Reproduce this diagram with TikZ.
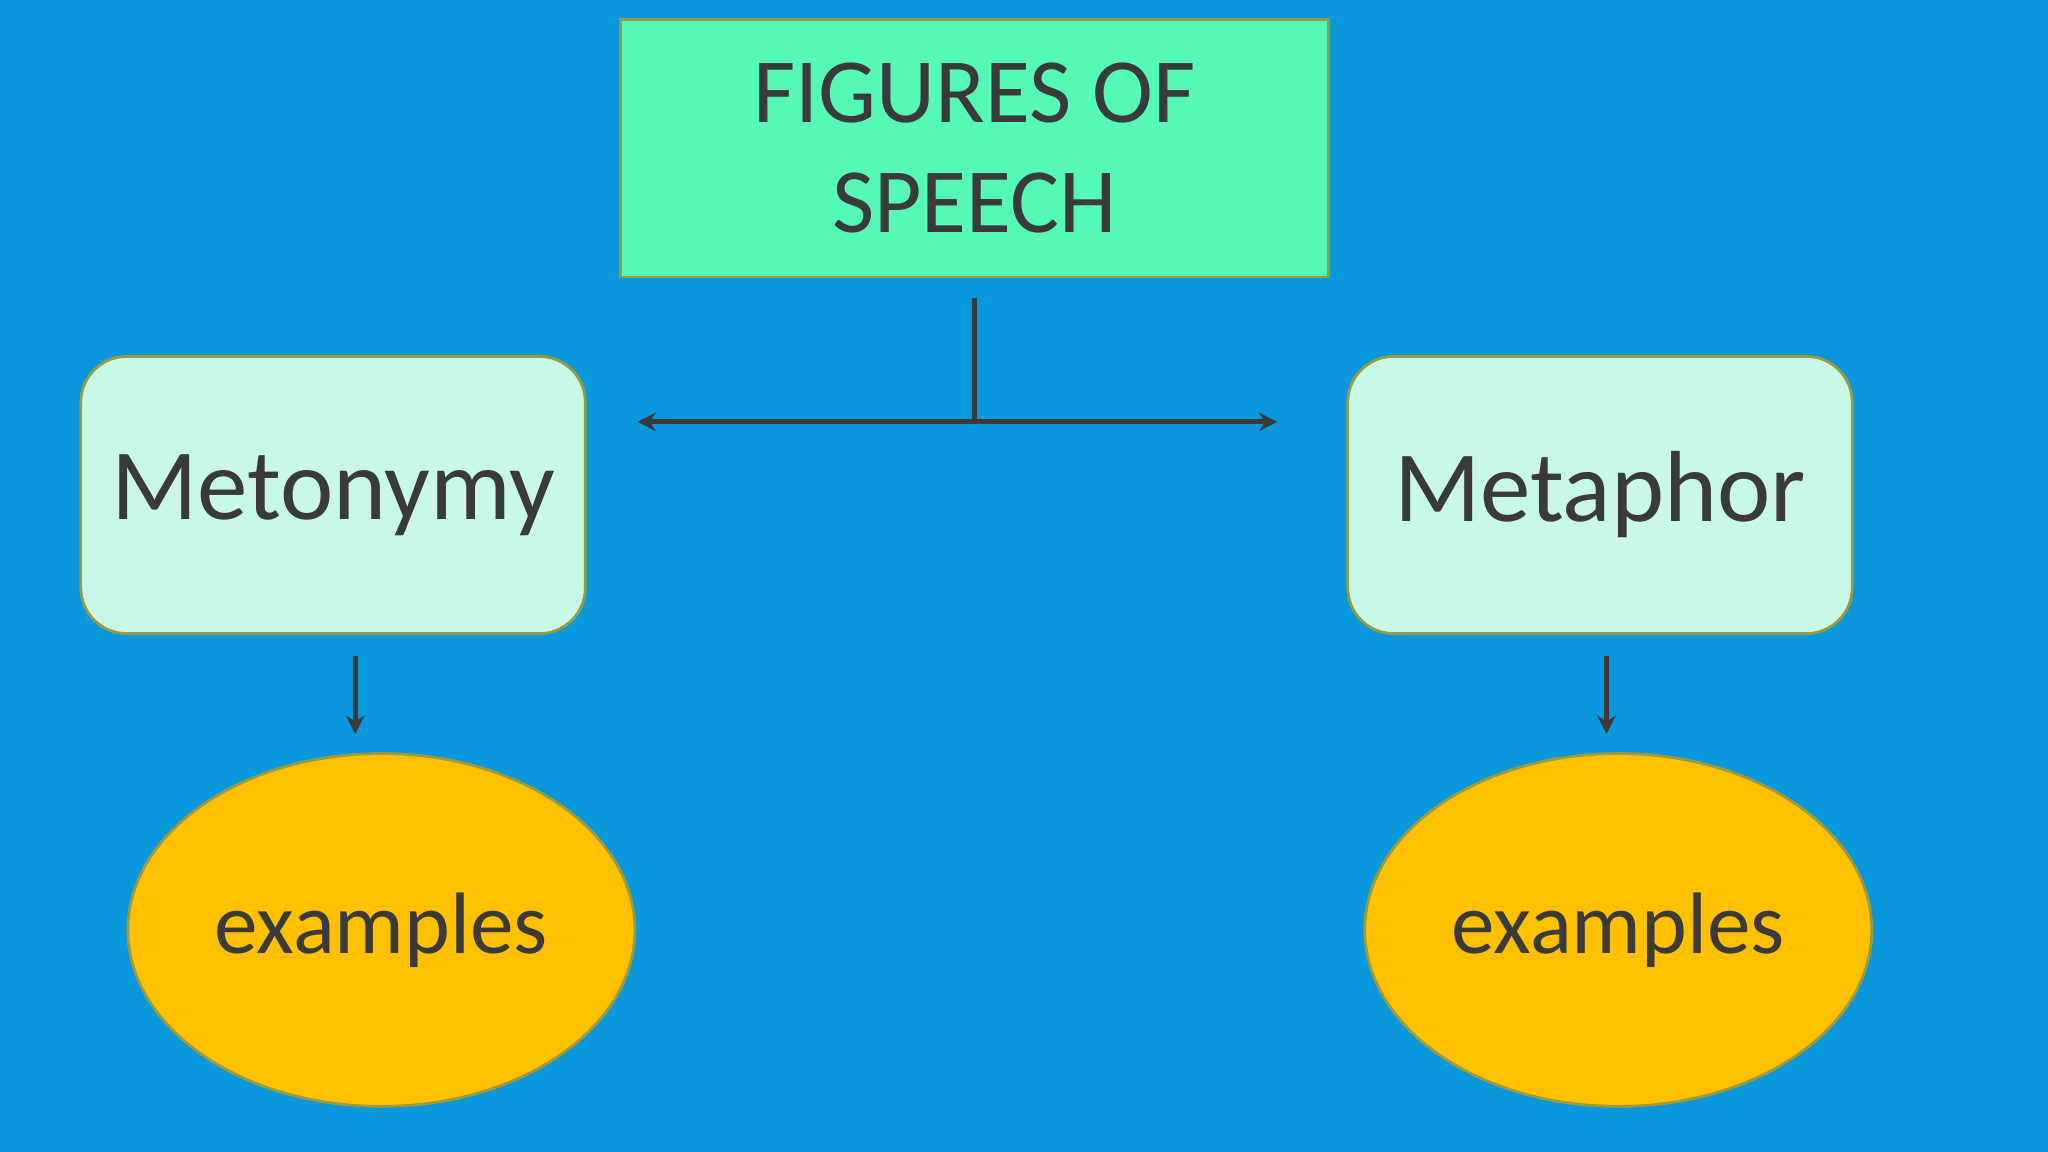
\documentclass[tikz,border=0pt]{standalone}
\usepackage{fontspec}
\setmainfont{Carlito}
\usetikzlibrary{shapes.geometric,arrows.meta}
\definecolor{bg}{HTML}{0A98DC}
\definecolor{topc}{HTML}{55F9B5}
\definecolor{subc}{HTML}{C8F9E6}
\definecolor{ell}{HTML}{FFC000}
\definecolor{txt}{HTML}{3A3A3A}
\definecolor{edge}{HTML}{9A9A40}
\begin{document}
\begin{tikzpicture}[x=0.01cm,y=-0.01cm,
  box/.style={draw=edge,line width=0.6pt,text=txt,inner sep=0pt},
  conn/.style={draw=txt,line width=1.1pt},
  arr/.style={conn,-{Stealth[length=4pt,width=4pt]}}]
\fill[bg] (0,0) rectangle (1568,882);
\useasboundingbox (0,0) rectangle (1568,882);
\node[box,fill=topc,minimum width=542\pgflinewidth*0+5.42cm,minimum height=1.97cm,align=center,font=\fontsize{20}{22}\selectfont] (top) at (746,113.5) {FIGURES OF\\[2pt]SPEECH};
\node[box,fill=subc,rounded corners=0.35cm,minimum width=3.86cm,minimum height=2.12cm,font=\fontsize{22}{24}\selectfont] (meto) at (255,379) {Metonymy};
\node[box,fill=subc,rounded corners=0.35cm,minimum width=3.86cm,minimum height=2.12cm,font=\fontsize{22}{24}\selectfont] (meta) at (1225,379) {Metaphor};
\node[box,ellipse,fill=ell,minimum width=3.88cm,minimum height=2.7cm,font=\fontsize{19}{21}\selectfont] (ex1) at (292,712) {examples};
\node[box,ellipse,fill=ell,minimum width=3.88cm,minimum height=2.7cm,font=\fontsize{19}{21}\selectfont] (ex2) at (1239,712) {examples};
\coordinate (t0) at (746,228);
\coordinate (j) at (746,323);
\coordinate (hl) at (488,323);
\coordinate (hr) at (978,323);
\coordinate (a1) at (272,502);
\coordinate (b1) at (272,562);
\coordinate (a2) at (1230,502);
\coordinate (b2) at (1230,562);
\draw[conn] (t0) -- (j);
\draw[arr] (j) -- (hl);
\draw[arr] (j) -- (hr);
\draw[arr] (a1) -- (b1);
\draw[arr] (a2) -- (b2);
\end{tikzpicture}
\end{document}
